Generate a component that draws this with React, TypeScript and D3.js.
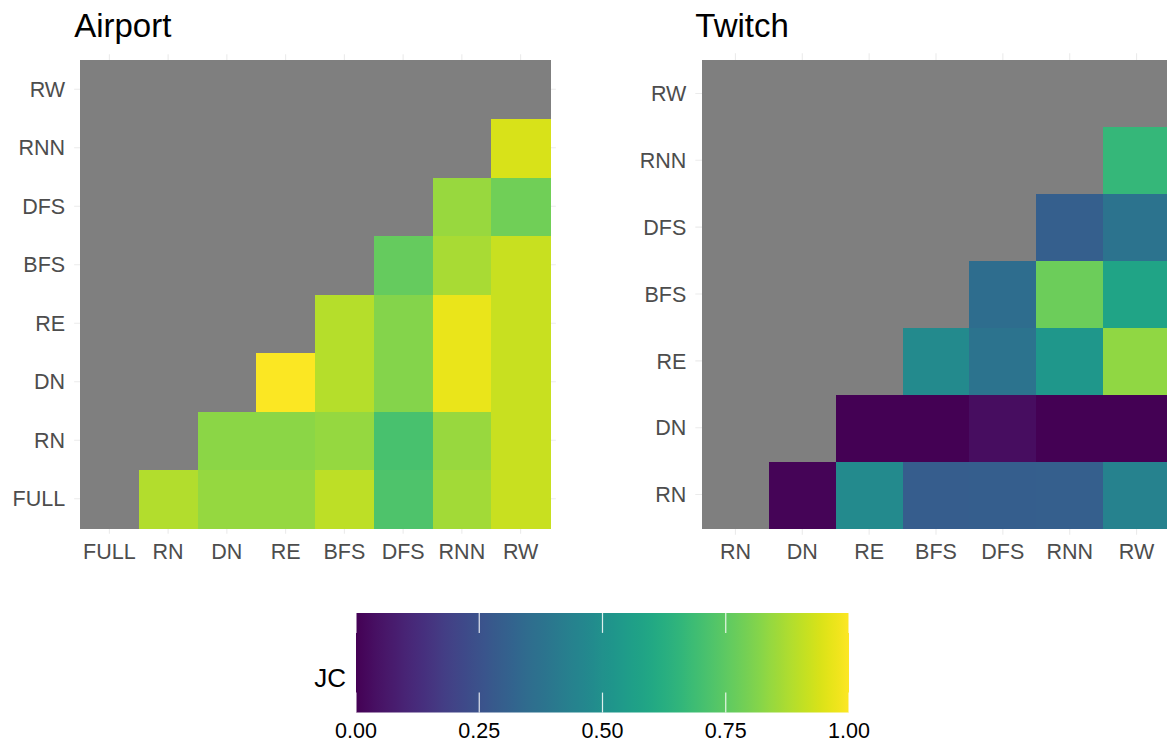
import React from "react";
import * as d3 from "d3";

// categories (bottom-to-top for y, left-to-right for x)
const airportCats = ["FULL", "RN", "DN", "RE", "BFS", "DFS", "RNN", "RW"];
const twitchCats = ["RN", "DN", "RE", "BFS", "DFS", "RNN", "RW"];

// JC values, one array per row (y category), null = not computed
const airportJC: (number | null)[][] = [
    [null, 0.885, 0.84, 0.84, 0.9, 0.72, 0.86, 0.915], // FULL
    [null, null, 0.825, 0.825, 0.84, 0.71, 0.845, 0.915], // RN
    [null, null, null, 0.995, 0.89, 0.815, 0.965, 0.915], // DN
    [null, null, null, null, 0.89, 0.815, 0.965, 0.915], // RE
    [null, null, null, null, null, 0.765, 0.87, 0.915], // BFS
    [null, null, null, null, null, null, 0.845, 0.785], // DFS
    [null, null, null, null, null, null, null, 0.94], // RNN
    [null, null, null, null, null, null, null, null], // RW
];

const twitchJC: (number | null)[][] = [
    [null, 0.01, 0.475, 0.29, 0.295, 0.3, 0.44], // RN
    [null, null, 0.0, 0.0, 0.035, 0.0, 0.0], // DN
    [null, null, null, 0.475, 0.38, 0.53, 0.835], // RE
    [null, null, null, null, 0.355, 0.775, 0.585], // BFS
    [null, null, null, null, null, 0.3, 0.38], // DFS
    [null, null, null, null, null, null, 0.665], // RNN
    [null, null, null, null, null, null, null], // RW
];

const legendTicks = [0, 0.25, 0.5, 0.75, 1];

const W = 1167;
const H = 745;
const FONT = "'Liberation Sans', Arial, Helvetica, sans-serif";
const NA_FILL = "#7F7F7F";
const GRID = "#EBEBEB";

const color = d3.scaleSequential(d3.interpolateViridis).domain([0, 1]);

interface PanelProps {
    title: string;
    cats: string[];
    values: (number | null)[][];
    x0: number;
    x1: number;
    y0: number;
    y1: number;
}

const Heatmap: React.FC<PanelProps> = ({ title, cats, values, x0, x1, y0, y1 }) => {
    const x = d3.scaleBand().domain(cats).range([x0, x1]).padding(0);
    const y = d3.scaleBand().domain(cats).range([y1, y0]).padding(0);
    const bw = x.bandwidth();
    const bh = y.bandwidth();
    // ggplot discrete expansion: 0.1 of a band outside the tiles
    const ex = bw * 0.1;
    const ey = bh * 0.1;

    const cells: { cx: string; cy: string; v: number | null }[] = [];
    values.forEach((row, ri) =>
        row.forEach((v, ci) => cells.push({ cx: cats[ci], cy: cats[ri], v }))
    );

    return (
        <g>
            {/* grid lines */}
            {cats.map((c) => (
                <line
                    key={"gx" + c}
                    x1={(x(c) || 0) + bw / 2}
                    x2={(x(c) || 0) + bw / 2}
                    y1={y0 - ey}
                    y2={y1 + ey}
                    stroke={GRID}
                    strokeWidth={1.1}
                />
            ))}
            {cats.map((c) => (
                <line
                    key={"gy" + c}
                    y1={(y(c) || 0) + bh / 2}
                    y2={(y(c) || 0) + bh / 2}
                    x1={x0 - ex}
                    x2={x1 + ex}
                    stroke={GRID}
                    strokeWidth={1.1}
                />
            ))}
            {/* tiles */}
            {cells.map((d, i) => (
                <rect
                    key={i}
                    x={x(d.cx)}
                    y={y(d.cy)}
                    width={bw + 0.5}
                    height={bh + 0.5}
                    fill={d.v === null ? NA_FILL : color(d.v)}
                    shapeRendering="crispEdges"
                />
            ))}
            {/* axis labels */}
            {cats.map((c) => (
                <text
                    key={"tx" + c}
                    x={(x(c) || 0) + bw / 2}
                    y={y1 + 31}
                    textAnchor="middle"
                    fontSize={21.5}
                    fill="#4D4D4D"
                    fontFamily={FONT}
                >
                    {c}
                </text>
            ))}
            {cats.map((c) => (
                <text
                    key={"ty" + c}
                    x={x0 - ex - 9}
                    y={(y(c) || 0) + bh / 2}
                    dy="0.36em"
                    textAnchor="end"
                    fontSize={21.5}
                    fill="#4D4D4D"
                    fontFamily={FONT}
                >
                    {c}
                </text>
            ))}
            <text x={x0 - ex} y={37} fontSize={33} fill="#000" fontFamily={FONT}>
                {title}
            </text>
        </g>
    );
};

const App: React.FC = () => {
    const barX0 = 356;
    const barX1 = 849;
    const barY0 = 613;
    const barY1 = 712.5;
    const lx = d3.scaleLinear().domain([0, 1]).range([barX0, barX1]);
    const stops = d3.range(0, 1.0001, 0.02);
    const tickLen = (barY1 - barY0) * 0.2;

    return (
        <div style={{ position: "absolute", left: 0, top: 0 }}>
            <svg width={W} height={H} style={{ display: "block", background: "#fff" }}>
                <defs>
                    <linearGradient id="viridis" x1="0" x2="1" y1="0" y2="0">
                        {stops.map((s) => (
                            <stop key={s} offset={s} stopColor={color(s)} />
                        ))}
                    </linearGradient>
                </defs>
                <Heatmap
                    title="Airport"
                    cats={airportCats}
                    values={airportJC}
                    x0={80}
                    x1={550}
                    y0={60}
                    y1={528}
                />
                <Heatmap
                    title="Twitch"
                    cats={twitchCats}
                    values={twitchJC}
                    x0={702}
                    x1={1170}
                    y0={60}
                    y1={528}
                />
                {/* colour bar legend */}
                <rect
                    x={barX0}
                    y={barY0}
                    width={barX1 - barX0}
                    height={barY1 - barY0}
                    fill="url(#viridis)"
                />
                {legendTicks.map((t) => (
                    <g key={t}>
                        <line
                            x1={lx(t)}
                            x2={lx(t)}
                            y1={barY0}
                            y2={barY0 + tickLen}
                            stroke="#fff"
                            strokeOpacity={0.85}
                            strokeWidth={1.2}
                        />
                        <line
                            x1={lx(t)}
                            x2={lx(t)}
                            y1={barY1 - tickLen}
                            y2={barY1}
                            stroke="#fff"
                            strokeOpacity={0.85}
                            strokeWidth={1.2}
                        />
                        <text
                            x={lx(t)}
                            y={737.5}
                            textAnchor="middle"
                            fontSize={21.5}
                            fill="#000"
                            fontFamily={FONT}
                        >
                            {t.toFixed(2)}
                        </text>
                    </g>
                ))}
                <text
                    x={346}
                    y={687}
                    textAnchor="end"
                    fontSize={26}
                    fill="#000"
                    fontFamily={FONT}
                >
                    JC
                </text>
            </svg>
        </div>
    );
};

export default App;
